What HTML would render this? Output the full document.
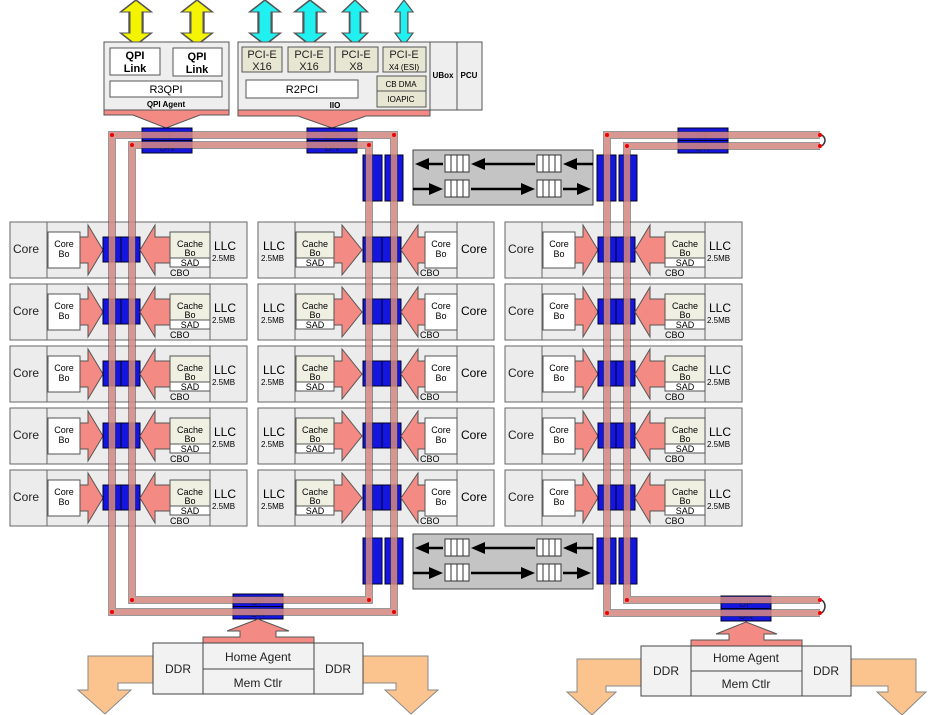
<!DOCTYPE html>
<html><head><meta charset="utf-8"><style>
html,body{margin:0;padding:0;background:#fff;}
svg{display:block;font-family:"Liberation Sans",sans-serif;}
</style></head><body>
<svg width="946" height="715" viewBox="0 0 946 715" xmlns="http://www.w3.org/2000/svg">
<defs>
<g id="tA">
 <rect x="0" y="0" width="237" height="56" fill="#ececec" stroke="#666"/>
 <line x1="37" y1="0" x2="37" y2="56" stroke="#666"/>
 <line x1="200" y1="0" x2="200" y2="56" stroke="#666"/>
 <text x="3" y="31" font-size="12" fill="#222">Core</text>
 <rect x="38" y="10" width="32" height="36" fill="#fff" stroke="#555"/>
 <text x="54" y="25" font-size="9" text-anchor="middle">Core</text>
 <text x="54" y="35" font-size="9" text-anchor="middle">Bo</text>
 <polygon points="70,15 78,15 78,3 93,28 78,53 78,41 70,41" fill="#f48a84" stroke="#555"/>
 <rect x="93" y="15" width="37" height="25" fill="#1515e0" stroke="#002"/>
 <line x1="102" y1="15" x2="102" y2="40" stroke="#002"/><line x1="111" y1="15" x2="111" y2="40" stroke="#002"/><line x1="121" y1="15" x2="121" y2="40" stroke="#002"/>
 <polygon points="130,28 145,3 145,15 160,15 160,41 145,41 145,53" fill="#f48a84" stroke="#555"/>
 <rect x="160" y="10" width="40" height="26" fill="#efefe2" stroke="#555"/>
 <rect x="160" y="36" width="40" height="9" fill="#fff" stroke="#555"/>
 <text x="180" y="25" font-size="9" text-anchor="middle">Cache</text>
 <text x="180" y="34" font-size="9" text-anchor="middle">Bo</text>
 <text x="180" y="44" font-size="9" text-anchor="middle">SAD</text>
 <text x="160" y="54" font-size="9">CBO</text>
 <text x="204" y="28" font-size="12">LLC</text>
 <text x="202" y="39" font-size="8">2.5MB</text>
</g>
<g id="tB">
 <rect x="0" y="0" width="236" height="56" fill="#ececec" stroke="#666"/>
 <line x1="37" y1="0" x2="37" y2="56" stroke="#666"/>
 <line x1="199" y1="0" x2="199" y2="56" stroke="#666"/>
 <text x="5" y="28" font-size="12">LLC</text>
 <text x="3" y="39" font-size="8">2.5MB</text>
 <rect x="38" y="10" width="38" height="26" fill="#efefe2" stroke="#555"/>
 <rect x="38" y="36" width="38" height="9" fill="#fff" stroke="#555"/>
 <text x="57" y="25" font-size="9" text-anchor="middle">Cache</text>
 <text x="57" y="34" font-size="9" text-anchor="middle">Bo</text>
 <text x="57" y="44" font-size="9" text-anchor="middle">SAD</text>
 <polygon points="76,15 84,15 84,3 104,28 84,53 84,41 76,41" fill="#f48a84" stroke="#555"/>
 <rect x="105" y="15" width="38" height="25" fill="#1515e0" stroke="#002"/>
 <line x1="114" y1="15" x2="114" y2="40" stroke="#002"/><line x1="124" y1="15" x2="124" y2="40" stroke="#002"/><line x1="133" y1="15" x2="133" y2="40" stroke="#002"/>
 <polygon points="143,28 160,3 160,15 167,15 167,41 160,41 160,53" fill="#f48a84" stroke="#555"/>
 <rect x="167" y="10" width="32" height="36" fill="#fff" stroke="#555"/>
 <text x="183" y="25" font-size="9" text-anchor="middle">Core</text>
 <text x="183" y="35" font-size="9" text-anchor="middle">Bo</text>
 <text x="162" y="54" font-size="9">CBO</text>
 <text x="203" y="31" font-size="12">Core</text>
</g>
<g id="buf">
 <rect x="0" y="0" width="180" height="55" fill="#c4c4c4" stroke="#444"/>
 <g fill="#fff" stroke="#333">
  <rect x="32" y="5" width="24" height="17"/><rect x="124" y="5" width="24" height="17"/>
  <rect x="32" y="30" width="24" height="17"/><rect x="124" y="30" width="24" height="17"/>
 </g>
 <g stroke="#333">
  <line x1="38" y1="5" x2="38" y2="22"/><line x1="44" y1="5" x2="44" y2="22"/><line x1="50" y1="5" x2="50" y2="22"/>
  <line x1="130" y1="5" x2="130" y2="22"/><line x1="136" y1="5" x2="136" y2="22"/><line x1="142" y1="5" x2="142" y2="22"/>
  <line x1="38" y1="30" x2="38" y2="47"/><line x1="44" y1="30" x2="44" y2="47"/><line x1="50" y1="30" x2="50" y2="47"/>
  <line x1="130" y1="30" x2="130" y2="47"/><line x1="136" y1="30" x2="136" y2="47"/><line x1="142" y1="30" x2="142" y2="47"/>
 </g>
 <g stroke="#000" stroke-width="2.5">
  <line x1="180" y1="14" x2="160" y2="14"/><line x1="122" y1="14" x2="70" y2="14"/><line x1="30" y1="14" x2="12" y2="14"/>
  <line x1="0" y1="39" x2="18" y2="39"/><line x1="58" y1="39" x2="112" y2="39"/><line x1="150" y1="39" x2="168" y2="39"/>
 </g>
 <g fill="#000">
  <polygon points="150,14 164,8 164,20"/><polygon points="58,14 72,8 72,20"/><polygon points="2,14 16,8 16,20"/>
  <polygon points="30,39 16,33 16,45"/><polygon points="122,39 108,33 108,45"/><polygon points="178,39 164,33 164,45"/>
 </g>
</g>
<g id="vstop">
 <rect x="0" y="0" width="19" height="46" fill="#1515e0" stroke="#002"/>
 <rect x="22" y="0" width="18" height="46" fill="#1515e0" stroke="#002"/>
</g>
<g id="hstop">
 <rect x="0" y="0" width="50" height="25" fill="#1515e0" stroke="#002"/>
 <line x1="0" y1="12.5" x2="50" y2="12.5" stroke="#002"/>
 <text x="25" y="11" font-size="10" text-anchor="middle" fill="#101060">UP</text>
 <text x="25" y="23" font-size="10" text-anchor="middle" fill="#101060">DN</text>
</g>
</defs>

<!-- top agents -->
<g stroke="#555" stroke-width="1">
 <polygon points="129,12 136,0 143,12 139,12 139,33 143,33 136,45 129,33 133,33 133,12" fill="#f4f400" transform="translate(136,22) scale(2.2,1) translate(-136,-22)"/>
 <polygon points="190,12 197,0 204,12 200,12 200,33 204,33 197,45 190,33 194,33 194,12" fill="#f4f400" transform="translate(197,22) scale(2.2,1) translate(-197,-22)"/>
 <polygon points="258,12 265,0 272,12 268,12 268,33 272,33 265,45 258,33 262,33 262,12" fill="#20f0f0" transform="translate(265,22) scale(2.2,1) translate(-265,-22)"/>
 <polygon points="303,12 310,0 317,12 313,12 313,33 317,33 310,45 303,33 307,33 307,12" fill="#20f0f0" transform="translate(310,22) scale(2.2,1) translate(-310,-22)"/>
 <polygon points="348,12 355,0 362,12 358,12 358,33 362,33 355,45 348,33 352,33 352,12" fill="#20f0f0" transform="translate(355,22) scale(1.8,1) translate(-355,-22)"/>
 <polygon points="397,12 404,0 411,12 407,12 407,33 411,33 404,45 397,33 401,33 401,12" fill="#20f0f0" transform="translate(404,22) scale(1.3,1) translate(-404,-22)"/>
</g>
<rect x="104" y="42" width="125" height="68" fill="#eee" stroke="#555"/>
<rect x="110" y="48" width="50" height="27" fill="#fff" stroke="#555"/>
<rect x="173" y="48" width="49" height="28" fill="#fff" stroke="#555"/>
<g font-size="11" font-weight="bold" text-anchor="middle">
 <text x="135" y="59">QPI</text><text x="135" y="72">Link</text>
 <text x="197" y="60">QPI</text><text x="197" y="73">Link</text>
</g>
<rect x="110" y="81" width="112" height="16" fill="#fff" stroke="#555"/>
<text x="166" y="93" font-size="11" text-anchor="middle">R3QPI</text>
<text x="166" y="107" font-size="8" font-weight="bold" text-anchor="middle">QPI Agent</text>
<polygon points="104,110 229,110 229,115 200,115 166,128 133,115 104,115" fill="#f48a84" stroke="#555"/>

<rect x="238" y="42" width="192" height="68" fill="#eee" stroke="#555"/>
<g fill="#e6e6d2" stroke="#555">
 <rect x="242" y="47" width="40" height="25"/><rect x="288" y="47" width="42" height="25"/>
 <rect x="335" y="47" width="43" height="25"/><rect x="383" y="47" width="43" height="25"/>
 <rect x="377" y="76" width="49" height="15"/><rect x="377" y="91" width="49" height="16"/>
</g>
<g font-size="11" text-anchor="middle" fill="#222">
 <text x="262" y="58">PCI-E</text><text x="262" y="70">X16</text>
 <text x="309" y="58">PCI-E</text><text x="309" y="70">X16</text>
 <text x="356" y="58">PCI-E</text><text x="356" y="70">X8</text>
 <text x="404" y="58">PCI-E</text>
</g>
<text x="404" y="70" font-size="8" text-anchor="middle">X4 (ESI)</text>
<rect x="246" y="80" width="112" height="18" fill="#fff" stroke="#555"/>
<text x="302" y="93" font-size="11" text-anchor="middle">R2PCI</text>
<text x="401" y="87" font-size="8" text-anchor="middle">CB DMA</text>
<text x="401" y="102" font-size="8" text-anchor="middle">IOAPIC</text>
<text x="335" y="108" font-size="8" font-weight="bold" text-anchor="middle">IIO</text>
<rect x="430" y="42" width="27" height="68" fill="#eee" stroke="#555"/>
<rect x="457" y="42" width="25" height="68" fill="#eee" stroke="#555"/>
<text x="443" y="78" font-size="8" font-weight="bold" text-anchor="middle">UBox</text>
<text x="469" y="78" font-size="8" font-weight="bold" text-anchor="middle">PCU</text>
<polygon points="238,110 430,110 430,116 366,116 332,128 298,116 238,116" fill="#f48a84" stroke="#555"/>

<!-- tiles -->
<use href="#tA" x="10" y="222"/><use href="#tA" x="10" y="284"/><use href="#tA" x="10" y="346"/><use href="#tA" x="10" y="408"/><use href="#tA" x="10" y="470"/>
<use href="#tB" x="258" y="222"/><use href="#tB" x="258" y="284"/><use href="#tB" x="258" y="346"/><use href="#tB" x="258" y="408"/><use href="#tB" x="258" y="470"/>
<use href="#tA" x="505" y="222"/><use href="#tA" x="505" y="284"/><use href="#tA" x="505" y="346"/><use href="#tA" x="505" y="408"/><use href="#tA" x="505" y="470"/>

<!-- buffers -->
<use href="#buf" x="413" y="150"/>
<use href="#buf" x="413" y="534"/>
<use href="#vstop" x="363" y="155"/><use href="#vstop" x="597" y="155"/>
<use href="#vstop" x="363" y="538"/><use href="#vstop" x="597" y="538"/>
<use href="#hstop" x="142" y="128"/><use href="#hstop" x="307" y="128"/><use href="#hstop" x="678" y="128"/>
<use href="#hstop" x="233" y="594"/><use href="#hstop" x="721" y="596"/>

<!-- rings -->
<g fill="none" stroke-linejoin="miter">
 <g stroke="#444" stroke-width="8" opacity="0.55">
  <rect x="112" y="135" width="282" height="477"/>
  <rect x="132" y="145" width="237" height="455"/>
  <path d="M820,135 H607 V613 H820"/>
  <path d="M820,146 H627 V600 H820"/>
 </g>
 <g stroke="#f79892" stroke-width="6" opacity="0.7">
  <rect x="112" y="135" width="282" height="477"/>
  <rect x="132" y="145" width="237" height="455"/>
  <path d="M820,135 H607 V613 H820"/>
  <path d="M820,146 H627 V600 H820"/>
 </g>
 <path d="M822,135 Q828,140 822,146 M822,600 Q828,606 822,613" stroke="#333" stroke-width="1.5"/>
</g>
<g fill="#e00">
 <circle cx="112" cy="135" r="2"/><circle cx="394" cy="135" r="2"/><circle cx="132" cy="145" r="2"/><circle cx="369" cy="145" r="2"/>
 <circle cx="112" cy="612" r="2"/><circle cx="394" cy="612" r="2"/><circle cx="132" cy="600" r="2"/><circle cx="369" cy="600" r="2"/>
 <circle cx="607" cy="135" r="2"/><circle cx="627" cy="146" r="2"/><circle cx="607" cy="613" r="2"/><circle cx="627" cy="600" r="2"/>
 <circle cx="820" cy="135" r="2"/><circle cx="820" cy="146" r="2"/><circle cx="820" cy="600" r="2"/><circle cx="820" cy="613" r="2"/>
</g>

<!-- memory left -->
<polygon points="203,643 203,637 240,637 240,631 227,631 258,619 289,631 276,631 276,637 314,637 314,643" fill="#f48a84" stroke="#555"/>
<polygon points="153,656 88,656 88,690 78,690 105,714 131,690 118,690 118,683 153,683" fill="#fbc48e" stroke="#888"/>
<polygon points="363,656 428,656 428,690 438,690 411,714 385,690 396,690 396,683 363,683" fill="#fbc48e" stroke="#888"/>
<rect x="153" y="643" width="210" height="51" fill="#f2f2f2" stroke="#444"/>
<line x1="203" y1="643" x2="203" y2="694" stroke="#444"/><line x1="314" y1="643" x2="314" y2="694" stroke="#444"/>
<line x1="203" y1="669" x2="314" y2="669" stroke="#444"/>
<g font-size="12" text-anchor="middle" fill="#222">
 <text x="178" y="673">DDR</text><text x="338" y="673">DDR</text>
 <text x="258" y="661">Home Agent</text><text x="258" y="687">Mem Ctlr</text>
</g>

<!-- memory right -->
<polygon points="691,646 691,640 729,640 729,634 716,634 746,622 777,634 764,634 764,640 802,640 802,646" fill="#f48a84" stroke="#555"/>
<polygon points="641,659 577,659 577,692 567,692 592,715 616,692 606,692 606,686 641,686" fill="#fbc48e" stroke="#888"/>
<polygon points="851,659 916,659 916,692 926,692 902,715 877,692 888,692 888,686 851,686" fill="#fbc48e" stroke="#888"/>
<rect x="641" y="646" width="210" height="50" fill="#f2f2f2" stroke="#444"/>
<line x1="691" y1="646" x2="691" y2="696" stroke="#444"/><line x1="802" y1="646" x2="802" y2="696" stroke="#444"/>
<line x1="691" y1="671" x2="802" y2="671" stroke="#444"/>
<g font-size="12" text-anchor="middle" fill="#222">
 <text x="666" y="675">DDR</text><text x="826" y="675">DDR</text>
 <text x="746" y="662">Home Agent</text><text x="746" y="688">Mem Ctlr</text>
</g>
</svg>
</body></html>
